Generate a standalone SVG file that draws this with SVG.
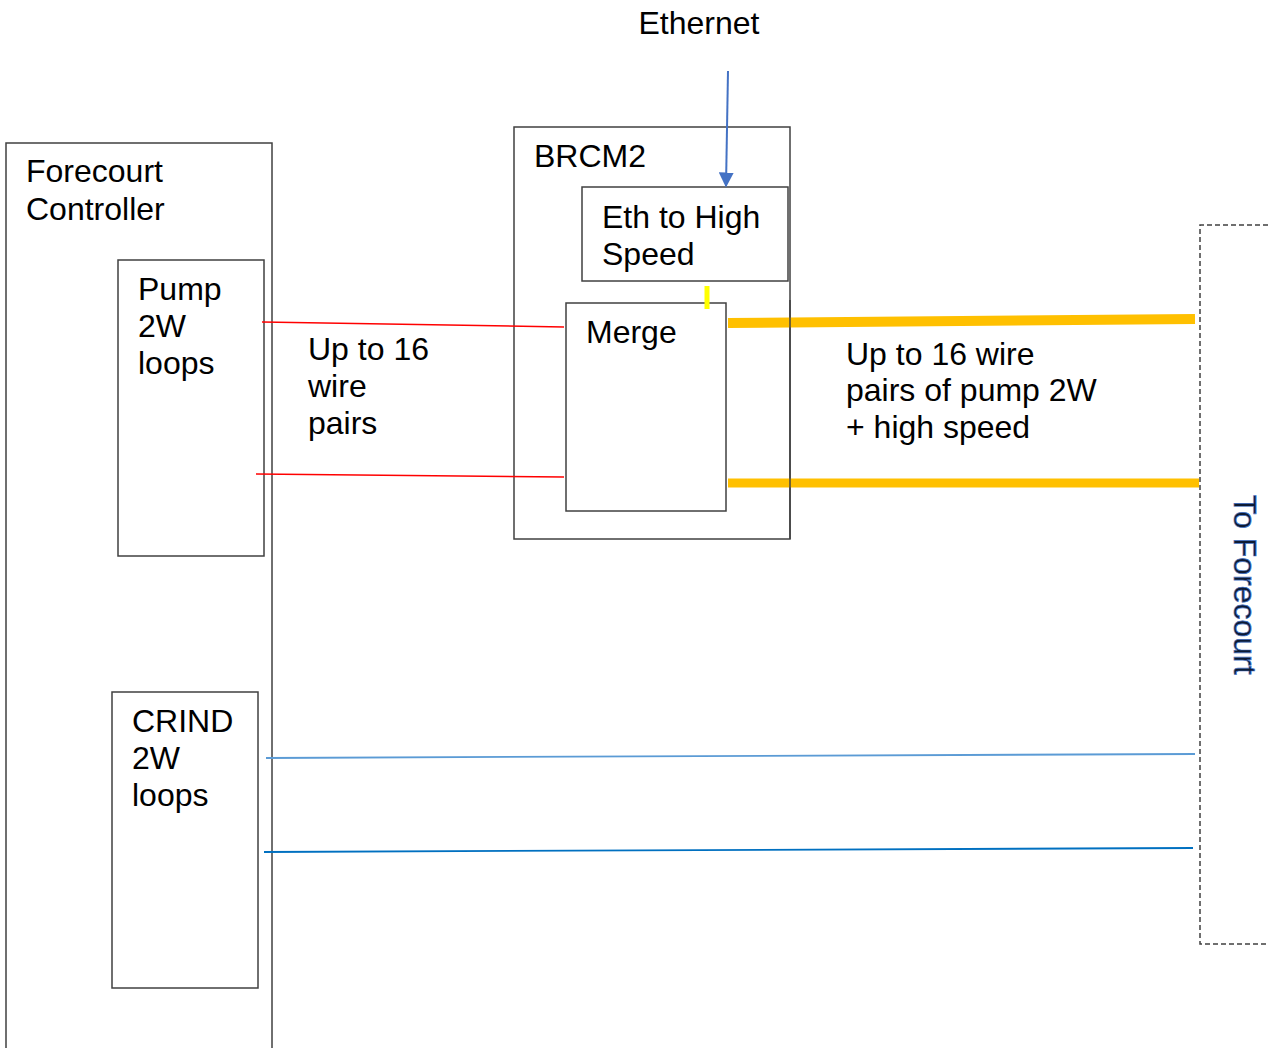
<svg xmlns="http://www.w3.org/2000/svg" width="1268" height="1048" viewBox="0 0 1268 1048">
<defs>
<style>
.box{fill:none;stroke:#404040;stroke-width:1.5}
.t{font-family:"Liberation Sans",Arial,sans-serif;font-size:32px;fill:#000}
</style>
<marker id="ah" viewBox="0 0 10 10" refX="9" refY="5" markerWidth="7.5" markerHeight="7.5" orient="auto">
<path d="M0,0 L10,5 L0,10 z" fill="#4472c4"/>
</marker>
</defs>
<rect width="1268" height="1048" fill="#fff"/>
<g id="forecourt-controller">
<rect class="box" x="6" y="143" width="266" height="920"/>
<text class="t" x="26" y="182">Forecourt</text>
<text class="t" x="26" y="220">Controller</text>
</g>
<g id="pump">
<rect class="box" x="118" y="260" width="146" height="296"/>
<text class="t" x="138" y="300">Pump</text>
<text class="t" x="138" y="337">2W</text>
<text class="t" x="138" y="374">loops</text>
</g>
<g id="crind">
<rect class="box" x="112" y="692" width="146" height="296"/>
<text class="t" x="132" y="732">CRIND</text>
<text class="t" x="132" y="769">2W</text>
<text class="t" x="132" y="806">loops</text>
</g>
<g id="brcm2">
<rect class="box" x="514" y="127" width="276" height="412"/>
<text class="t" x="534" y="167">BRCM2</text>
</g>
<g id="eth-to-high-speed">
<rect class="box" x="582" y="187" width="206" height="94" fill="#fff"/>
<text class="t" x="602" y="228">Eth to High</text>
<text class="t" x="602" y="265">Speed</text>
</g>
<g id="merge">
<rect class="box" x="566" y="303" width="160" height="208"/>
<text class="t" x="586" y="343">Merge</text>
</g>
<g id="to-forecourt">
<path d="M1268,225 H1200 V944 H1268" fill="none" stroke="#404040" stroke-width="1.5" stroke-dasharray="5,3"/>
<text class="t" transform="translate(1234,495) rotate(90)" style="fill:#0d1a33;stroke:#4472c4;stroke-width:0.7">To Forecourt</text>
</g>
<g id="labels">
<text class="t" x="699" y="34" text-anchor="middle">Ethernet</text>
<text class="t" x="308" y="360">Up to 16</text>
<text class="t" x="308" y="397">wire</text>
<text class="t" x="308" y="434">pairs</text>
<text class="t" x="846" y="365">Up to 16 wire</text>
<text class="t" x="846" y="401">pairs of pump 2W</text>
<text class="t" x="846" y="438">+ high speed</text>
</g>
<g id="connectors">
<line x1="728" y1="71" x2="726" y2="186" stroke="#4472c4" stroke-width="2" marker-end="url(#ah)"/>
<line x1="707" y1="286" x2="707" y2="309" stroke="#ffff00" stroke-width="5"/>
<line x1="262" y1="322" x2="564" y2="327" stroke="#ff0000" stroke-width="1.5"/>
<line x1="256" y1="474" x2="564" y2="477" stroke="#ff0000" stroke-width="1.5"/>
<line x1="728" y1="323" x2="1195" y2="319" stroke="#ffc000" stroke-width="10"/>
<line x1="728" y1="483" x2="1199" y2="483" stroke="#ffc000" stroke-width="9"/>
<line x1="266" y1="758" x2="1195" y2="754" stroke="#5b9bd5" stroke-width="1.8"/>
<line x1="264" y1="852" x2="1193" y2="848" stroke="#0070c0" stroke-width="1.8"/>
<line x1="790" y1="300" x2="790" y2="539" stroke="#404040" stroke-width="1.5"/>
</g>
</svg>
